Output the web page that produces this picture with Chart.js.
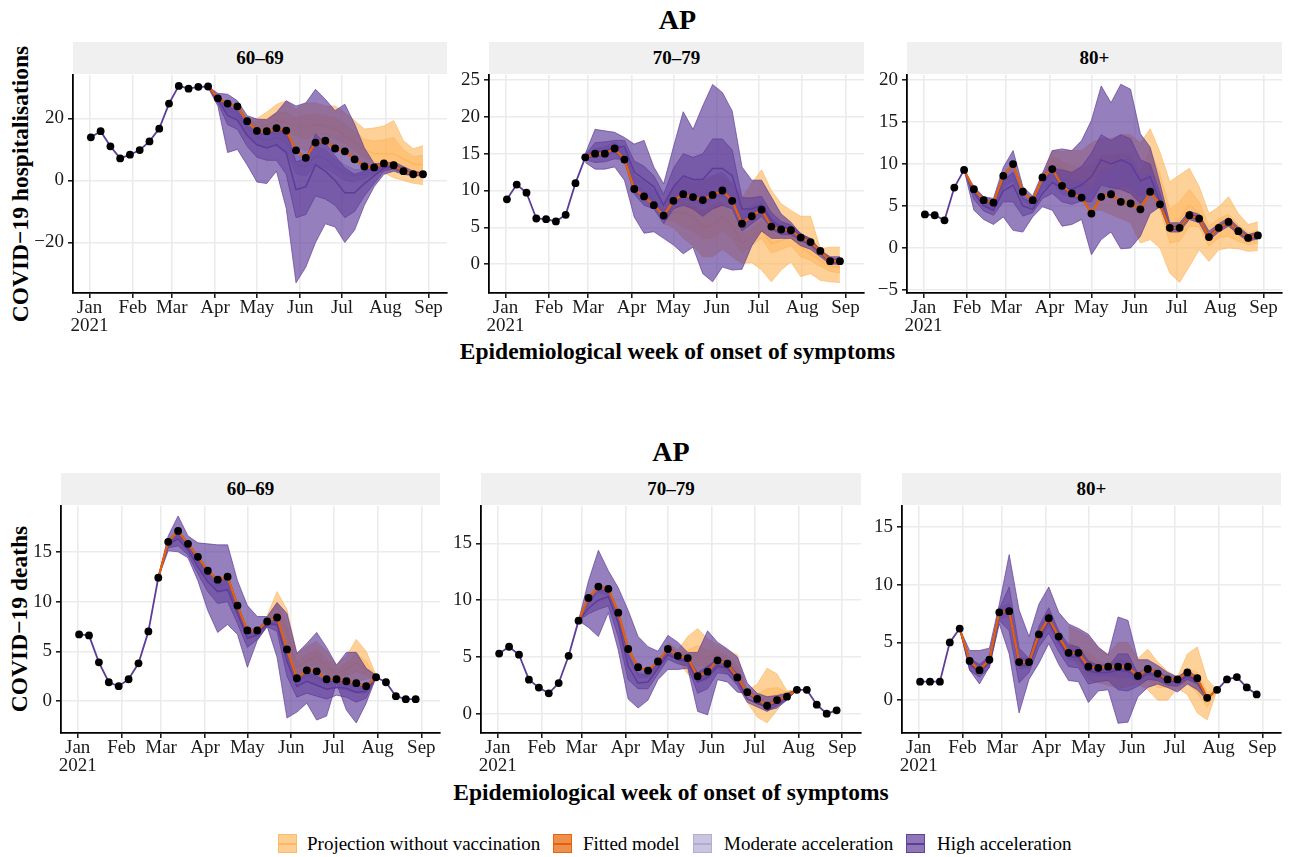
<!DOCTYPE html>
<html>
<head>
<meta charset="utf-8">
<script src="https://cdn.jsdelivr.net/npm/chart.js@4.4.1/dist/chart.umd.min.js"></script>
<style>
  body { margin: 0; background: #fff; }
  #wrap { position: relative; width: 1291px; height: 857px; overflow: hidden; font-family: "Liberation Serif", "DejaVu Serif", serif; color: #000; }
  .abs { position: absolute; }
  .title { font-weight: bold; font-size: 28px; text-align: center; }
  .xtitle { font-weight: bold; font-size: 23.5px; text-align: center; white-space: nowrap; }
  .ytitle { font-weight: bold; font-size: 23.5px; white-space: nowrap; transform: translate(-50%, -50%) rotate(-90deg); }
  .strip { background: #f0f0f0; font-weight: bold; font-size: 19px; text-align: center; line-height: 32px; height: 32px; }
  .key { width: 19px; height: 19px; box-sizing: border-box; }
  .key i { position: absolute; left: 0; right: 0; top: 8px; height: 1.6px; }
  .ltext { font-size: 19px; line-height: 19px; white-space: nowrap; }
</style>
</head>
<body>
<div id="wrap">
  <div class="abs title" style="left:73px;width:1209px;top:4px;">AP</div>
  <div class="abs xtitle" style="left:73px;width:1209px;top:338px;">Epidemiological week of onset of symptoms</div>
  <div class="abs ytitle" style="left:20px;top:184px;">COVID−19 hospitalisations</div>

  <div class="abs title" style="left:61px;width:1220px;top:436px;">AP</div>
  <div class="abs xtitle" style="left:61px;width:1220px;top:779px;">Epidemiological week of onset of symptoms</div>
  <div class="abs ytitle" style="left:19px;top:619px;">COVID−19 deaths</div>
</div>
<script>
// weeks (days since 1 Jan 2021, epi week ending Saturday)
const weekDays = [1, 8, 15, 22, 29, 36, 43, 50, 57, 64, 71, 78, 85, 92, 99, 106, 113, 120,
  127, 134, 141, 148, 155, 162, 169, 176, 183, 190, 197, 204, 211, 218, 225, 232, 239];
const monthTicks = [0, 31, 59, 90, 120, 151, 181, 212, 243];
const monthLabels = ['Jan', 'Feb', 'Mar', 'Apr', 'May', 'Jun', 'Jul', 'Aug', 'Sep'];

// ---- hospitalisations 60-69 ----
const h60_obs = [13.9, 15.9, 11.0, 7.1, 8.3, 9.8, 12.6, 16.7, 24.8, 30.5, 29.6, 30.2, 30.3, 26.5, 24.8, 23.9, 19.1, 16.0,
  15.9, 16.9, 16.1, 9.7, 7.3, 12.2, 12.8, 10.3, 9.4, 6.8, 4.5, 4.2, 5.5, 4.9, 3.0, 2.0, 2.0];
const h60_hi_med = [30.2, 26.0, 21.0, 19.5, 14.5, 11.5, 10.5, 11.5, 9.0, -3.0, -2.0, 5.0, 3.0, 0.0, -4.0, -4.0, -1.0, 1.5, 4.0, 4.5, 3.0, 2.0, 2.0];
const h60_hi_lo95 = [30.0, 24.0, 9.0, 10.0, 5.0, -0.5, -1.0, 3.0, -9.0, -33.0, -28.0, -20.0, -14.0, -15.0, -20.0, -16.0, -8.0, -2.0, 2.0, 3.0, 2.0, 1.5, 1.5];
const h60_hi_hi95 = [30.3, 28.1, 27.8, 25.7, 20.9, 19.8, 19.6, 21.9, 25.7, 24.0, 25.0, 29.4, 26.2, 22.5, 24.6, 18.2, 10.5, 5.5, 5.5, 6.0, 4.5, 3.0, 2.5];
const h60_hi_lo50 = [29.9, 25.0, 18.0, 16.5, 11.0, 7.5, 6.5, 6.5, 2.0, -12.0, -11.0, -5.0, -6.0, -8.0, -12.0, -10.0, -5.0, -1.0, 3.0, 3.7, 2.4, 1.6, 1.7];
const h60_hi_hi50 = [30.5, 27.0, 24.0, 22.5, 18.0, 15.5, 14.5, 16.5, 16.0, 6.0, 7.0, 15.0, 12.0, 8.0, 4.0, 2.0, 3.0, 4.0, 5.0, 5.3, 3.6, 2.4, 2.3];
const h60_mod_med = [30.2, 26.3, 23.0, 21.5, 17.0, 14.0, 13.0, 14.0, 12.5, 5.0, 4.5, 8.0, 7.0, 4.5, 2.5, 1.5, 2.0, 3.0, 4.5, 4.6, 3.0, 2.0, 2.0];
const h60_mod_lo = [30.0, 25.5, 21.5, 20.0, 15.0, 12.0, 11.0, 11.5, 9.5, 2.0, 1.5, 5.0, 4.0, 2.0, 0.0, -0.5, 0.5, 2.0, 3.9, 4.1, 2.6, 1.7, 1.8];
const h60_mod_hi = [30.4, 27.1, 24.5, 23.0, 19.0, 16.0, 15.0, 16.5, 15.5, 8.0, 7.5, 11.0, 10.0, 7.0, 5.0, 3.5, 3.5, 4.0, 5.1, 5.1, 3.4, 2.3, 2.2];
const h60_nv_med = [19.1, 17.5, 18.0, 19.3, 18.5, 17.6, 17.0, 18.2, 17.5, 16.6, 14.5, 12.3, 10.0, 8.6, 8.6, 8.6, 7.0, 5.3, 5.1];
const h60_nv_lo95 = [19.0, 15.5, 14.5, 15.0, 13.5, 11.0, 9.5, 12.0, 12.0, 10.5, 9.5, 7.0, 4.5, 3.5, 2.5, 0.9, 0.0, -0.9, -1.3];
const h60_nv_hi95 = [19.5, 20.0, 22.0, 24.5, 25.7, 23.0, 25.0, 25.0, 24.0, 24.0, 21.9, 19.3, 16.6, 16.9, 17.6, 19.3, 12.8, 10.2, 11.2];
const h60_nv_lo50 = [19.05, 16.5, 16.2, 17.1, 16.0, 14.3, 13.2, 15.1, 14.7, 13.5, 12.0, 9.6, 7.2, 6.0, 5.5, 4.7, 3.5, 2.2, 1.9];
const h60_nv_hi50 = [19.2, 18.8, 20.0, 21.8, 22.0, 20.3, 21.0, 21.5, 20.7, 20.3, 18.2, 15.8, 13.3, 12.7, 13.1, 13.9, 9.9, 7.7, 8.1];

// ---- hospitalisations 70-79 ----
const h70_obs = [8.8, 10.8, 9.7, 6.2, 6.1, 5.8, 6.7, 11.0, 14.5, 15.0, 15.0, 15.7, 14.2, 10.2, 9.2, 8.0, 6.6, 8.6,
  9.5, 9.1, 8.7, 9.4, 10.0, 8.6, 5.5, 6.5, 7.4, 5.1, 4.7, 4.6, 3.6, 3.0, 1.8, 0.4, 0.4];
const h70_hi_med = [14.5, 15.3, 15.4, 15.8, 16.0, 12.5, 11.5, 10.5, 8.0, 10.5, 12.0, 11.5, 11.5, 13.0, 13.0, 12.0, 7.5, 7.5, 8.0, 6.0, 5.0, 4.8, 3.8, 3.0, 1.8, 0.5, 0.5];
const h70_hi_lo95 = [13.8, 12.9, 12.9, 13.2, 11.4, 6.4, 4.2, 4.4, 3.5, 2.6, 1.4, 2.3, -1.3, -2.4, -0.4, -0.8, -0.7, 2.5, 4.5, 3.5, 3.5, 3.5, 2.5, 2.0, 1.0, 0.0, 0.0];
const h70_hi_hi95 = [15.0, 18.3, 18.1, 17.9, 17.2, 16.3, 16.8, 13.2, 10.9, 15.9, 20.7, 18.3, 21.5, 24.4, 23.3, 20.8, 13.2, 11.4, 11.4, 9.1, 6.8, 5.7, 4.1, 3.5, 1.9, 1.0, 1.0];
const h70_hi_lo50 = [14.2, 13.8, 13.9, 14.3, 14.2, 9.5, 8.0, 7.5, 5.5, 7.5, 8.0, 7.5, 6.5, 7.5, 8.0, 7.5, 4.5, 5.5, 6.5, 4.8, 4.0, 4.0, 3.2, 2.5, 1.4, 0.2, 0.2];
const h70_hi_hi50 = [14.8, 16.5, 16.6, 16.8, 16.8, 14.0, 13.3, 12.0, 9.5, 13.0, 15.0, 14.5, 15.0, 17.0, 17.0, 15.5, 9.0, 9.0, 9.2, 7.0, 5.8, 5.3, 4.2, 3.3, 2.0, 0.7, 0.7];
const h70_mod_med = [14.5, 15.1, 15.2, 15.8, 14.6, 10.8, 10.0, 8.8, 7.0, 9.2, 10.2, 9.8, 9.5, 10.3, 10.8, 9.5, 6.2, 7.0, 7.8, 5.5, 4.9, 4.7, 3.7, 3.0, 1.8, 0.4, 0.4];
const h70_mod_lo = [14.3, 14.6, 14.6, 15.1, 13.8, 9.8, 9.0, 7.8, 6.0, 8.0, 8.8, 8.4, 8.0, 8.8, 9.3, 8.2, 5.2, 6.2, 7.0, 4.9, 4.4, 4.3, 3.3, 2.7, 1.5, 0.2, 0.2];
const h70_mod_hi = [14.7, 15.7, 15.9, 16.6, 15.6, 12.0, 11.2, 10.0, 8.2, 10.6, 11.8, 11.4, 11.2, 12.0, 12.5, 11.0, 7.3, 7.9, 8.6, 6.2, 5.5, 5.2, 4.1, 3.3, 2.1, 0.6, 0.6];
const h70_nv_med = [6.5, 7.0, 7.0, 6.5, 5.0, 5.3, 6.4, 5.3, 2.8, 3.7, 4.6, 2.8, 3.2, 3.7, 2.3, 1.4, 0.5, -0.3, -0.4];
const h70_nv_lo95 = [5.5, 5.0, 3.5, 2.5, 1.0, 1.0, 2.0, 1.0, 0.1, 0.2, -0.8, -2.4, -0.8, 0.3, -1.7, -1.3, -2.2, -2.4, -2.5];
const h70_nv_hi95 = [7.0, 10.5, 11.5, 11.0, 11.5, 12.0, 12.0, 11.0, 9.0, 11.0, 12.8, 10.0, 8.2, 7.3, 6.5, 6.5, 2.1, 2.3, 2.3];
const h70_nv_lo50 = [6.0, 6.0, 5.0, 4.5, 3.5, 3.5, 4.5, 3.5, 1.5, 2.5, 3.5, 1.5, 2.0, 2.5, 1.0, 0.5, -0.3, -1.0, -1.2];
const h70_nv_hi50 = [6.8, 8.2, 8.6, 8.0, 7.3, 8.0, 8.4, 6.8, 4.1, 4.8, 5.9, 4.5, 4.5, 4.5, 3.5, 3.0, 1.8, 0.5, 0.5];

// ---- hospitalisations 80+ ----
const h80_obs = [4.0, 3.9, 3.3, 7.2, 9.3, 7.0, 5.7, 5.4, 8.6, 10.0, 6.7, 5.7, 8.4, 9.4, 7.4, 6.5, 6.0, 4.1,
  6.1, 6.4, 5.5, 5.3, 4.6, 6.7, 5.2, 2.4, 2.4, 3.9, 3.5, 1.3, 2.4, 3.1, 2.0, 1.2, 1.5];
const h80_hi_med = [9.3, 6.6, 5.0, 4.5, 6.8, 7.5, 5.0, 4.6, 6.5, 7.8, 7.2, 7.0, 7.5, 8.5, 10.5, 10.0, 10.5, 10.0, 8.0, 8.5, 5.5, 2.4, 2.4, 3.9, 3.5, 1.4, 2.4, 3.1, 2.0, 1.2, 1.5];
const h80_hi_lo95 = [9.3, 4.5, 3.4, 2.8, 3.7, 2.1, 1.9, 3.7, 4.9, 4.5, 2.6, 2.8, 3.4, -0.8, 1.0, 1.9, -0.1, 0.0, 1.4, 4.1, 4.9, 1.9, 1.9, 3.4, 3.0, 0.9, 1.9, 2.6, 1.6, 0.8, 1.1];
const h80_hi_hi95 = [9.3, 7.2, 6.1, 5.9, 9.6, 11.6, 7.3, 6.2, 8.9, 11.6, 11.8, 11.6, 12.8, 15.2, 19.3, 17.3, 19.5, 18.9, 13.6, 12.0, 7.7, 3.0, 3.0, 4.4, 4.0, 2.0, 2.9, 3.6, 2.5, 1.6, 1.9];
const h80_hi_lo50 = [9.3, 5.8, 4.4, 3.9, 5.5, 5.5, 3.8, 4.2, 5.9, 6.5, 5.5, 5.2, 5.6, 5.5, 7.5, 7.2, 7.0, 6.5, 5.3, 6.8, 5.1, 2.2, 2.2, 3.7, 3.3, 1.2, 2.2, 2.9, 1.8, 1.0, 1.3];
const h80_hi_hi50 = [9.3, 6.9, 5.6, 5.2, 8.0, 9.0, 6.0, 5.3, 7.6, 9.5, 9.3, 9.0, 9.7, 11.3, 13.5, 12.8, 13.5, 13.0, 10.5, 10.0, 6.5, 2.6, 2.6, 4.1, 3.7, 1.6, 2.6, 3.3, 2.2, 1.4, 1.7];
const h80_mod_med = [9.3, 7.0, 5.6, 5.2, 8.0, 9.0, 6.3, 5.3, 7.8, 8.8, 7.4, 7.0, 6.8, 6.0, 7.7, 8.0, 8.9, 8.9, 7.3, 7.8, 5.6, 2.4, 2.4, 3.9, 3.5, 1.3, 2.4, 3.1, 2.0, 1.2, 1.5];
const h80_mod_lo = [9.3, 6.6, 5.1, 4.7, 7.2, 8.0, 5.6, 4.8, 7.0, 7.8, 6.4, 6.0, 5.7, 4.8, 6.3, 6.5, 7.3, 7.2, 6.0, 6.8, 5.2, 2.2, 2.2, 3.7, 3.3, 1.1, 2.2, 2.9, 1.8, 1.0, 1.3];
const h80_mod_hi = [9.3, 7.4, 6.1, 5.7, 8.8, 10.0, 7.0, 5.8, 8.6, 9.8, 8.4, 8.0, 7.9, 7.2, 9.1, 9.5, 10.5, 10.6, 8.6, 8.8, 6.0, 2.6, 2.6, 4.1, 3.7, 1.5, 2.6, 3.3, 2.2, 1.4, 1.7];
const h80_nv_med = [8.4, 10.5, 9.5, 8.8, 8.5, 8.3, 9.4, 9.4, 9.4, 9.3, 6.7, 9.8, 7.0, 2.6, 3.4, 5.1, 4.1, 1.4, 2.4, 2.6, 1.8, 1.0, 1.4];
const h80_nv_lo95 = [8.4, 8.5, 7.0, 6.3, 6.0, 4.5, 4.5, 4.0, 3.5, 3.0, 0.6, 1.0, 0.0, -3.0, -4.1, -2.2, -0.2, -1.6, -0.2, 0.0, -0.1, -0.4, -0.3];
const h80_nv_hi95 = [8.4, 11.6, 11.5, 11.6, 11.6, 12.5, 13.0, 13.0, 13.5, 13.5, 12.5, 14.2, 11.4, 7.9, 8.7, 9.5, 7.3, 4.1, 4.9, 6.1, 4.1, 2.8, 3.1];
const h80_nv_lo50 = [8.4, 9.8, 8.5, 7.7, 7.3, 6.6, 7.2, 7.0, 6.8, 6.5, 4.0, 7.0, 4.6, 0.6, 0.8, 2.6, 2.5, 0.2, 1.2, 1.4, 0.8, 0.4, 0.6];
const h80_nv_hi50 = [8.4, 10.9, 10.3, 9.8, 9.6, 9.8, 11.0, 11.0, 11.2, 11.2, 9.0, 11.8, 8.8, 4.6, 5.5, 7.0, 5.5, 2.6, 3.5, 4.0, 2.8, 1.8, 2.1];

// ---- deaths 60-69 ----
const d60_obs = [6.7, 6.6, 3.9, 1.9, 1.5, 2.2, 3.8, 7.0, 12.4, 16.0, 17.1, 15.8, 14.5, 13.1, 12.2, 12.5, 9.6, 7.1,
  7.1, 8.0, 8.4, 5.2, 2.3, 3.1, 3.0, 2.2, 2.2, 2.0, 1.8, 1.5, 2.4, 1.9, 0.5, 0.2, 0.2];
const d60_hi_med = [12.4, 15.8, 16.3, 15.2, 13.5, 12.0, 11.0, 11.2, 8.8, 6.3, 6.7, 7.8, 7.7, 4.0, 1.5, 2.0, 1.6, 1.2, 1.4, 1.3, 0.9, 1.0, 2.4];
const d60_hi_lo95 = [12.4, 15.1, 15.0, 14.4, 12.1, 9.1, 6.9, 7.7, 6.7, 3.4, 6.1, 7.5, 4.4, -1.7, -1.1, -0.2, -1.9, -1.5, 1.8, -0.9, -2.2, -0.2, 2.4];
const d60_hi_hi95 = [12.4, 16.6, 18.6, 16.6, 15.9, 15.8, 15.7, 15.7, 12.1, 9.6, 8.5, 8.5, 9.9, 8.8, 4.8, 5.8, 6.9, 5.4, 3.6, 4.9, 4.9, 3.3, 2.6];
const d60_hi_lo50 = [12.4, 15.4, 15.6, 14.7, 12.8, 11.0, 9.8, 10.0, 7.8, 5.4, 6.2, 7.5, 7.0, 2.5, 0.4, 0.8, 0.5, 0.2, 0.6, 0.4, -0.1, 0.3, 2.4];
const d60_hi_hi50 = [12.4, 16.2, 16.9, 15.6, 14.2, 13.0, 12.2, 12.4, 9.8, 7.0, 7.2, 8.1, 8.3, 5.3, 2.4, 2.9, 2.5, 2.0, 2.0, 2.0, 1.6, 1.6, 2.4];
const d60_mod_med = [12.4, 15.9, 16.7, 15.5, 14.0, 12.6, 11.6, 11.8, 9.2, 6.8, 6.9, 7.9, 8.1, 4.6, 1.9, 2.6, 2.3, 1.7, 1.8, 1.6, 1.3, 1.2, 2.4];
const d60_mod_lo = [12.4, 15.6, 16.3, 15.1, 13.5, 12.0, 11.0, 11.2, 8.7, 6.4, 6.5, 7.6, 7.6, 4.0, 1.4, 2.0, 1.7, 1.2, 1.3, 1.1, 0.8, 0.8, 2.4];
const d60_mod_hi = [12.4, 16.2, 17.1, 15.9, 14.5, 13.2, 12.2, 12.4, 9.7, 7.2, 7.3, 8.2, 8.6, 5.2, 2.4, 3.2, 2.9, 2.2, 2.3, 2.1, 1.8, 1.6, 2.4];
const d60_nv_med = [8.3, 9.5, 7.0, 3.4, 4.0, 4.5, 3.4, 2.8, 3.2, 3.9, 3.2, 2.4];
const d60_nv_lo95 = [8.0, 8.2, 5.5, 2.0, 2.5, 2.5, 2.0, 2.0, 2.0, 2.0, 2.2, 2.4];
const d60_nv_hi95 = [8.6, 11.0, 9.2, 4.8, 5.5, 6.0, 5.0, 3.7, 4.5, 6.2, 5.0, 2.6];
const d60_nv_lo50 = [8.1, 8.8, 6.2, 2.7, 3.3, 3.7, 2.7, 2.4, 2.6, 3.0, 2.6, 2.4];
const d60_nv_hi50 = [8.4, 9.9, 7.8, 4.0, 4.7, 5.2, 4.2, 3.2, 3.8, 4.8, 4.0, 2.5];

// ---- deaths 70-79 ----
const d70_obs = [5.3, 5.9, 5.2, 3.0, 2.3, 1.8, 2.7, 5.1, 8.2, 10.2, 11.2, 11.0, 8.9, 5.7, 4.1, 3.8, 4.6, 5.7,
  5.1, 4.9, 3.3, 3.7, 4.7, 4.4, 3.2, 1.9, 1.3, 0.7, 1.2, 1.5, 2.1, 2.1, 0.8, 0.0, 0.3];
const d70_hi_med = [8.2, 9.3, 10.0, 10.3, 8.0, 4.2, 2.7, 2.8, 4.0, 5.2, 4.8, 4.6, 2.8, 3.2, 4.2, 4.0, 3.0, 1.3, 0.9, 0.6, 1.0, 1.4, 2.1];
const d70_hi_lo95 = [8.2, 7.6, 6.8, 8.9, 5.6, 1.3, 0.5, 1.2, 3.0, 3.9, 3.9, 4.0, 0.2, -0.1, 3.0, 2.8, 1.9, 1.8, 1.1, 0.3, 0.5, 1.2, 2.1];
const d70_hi_hi95 = [8.2, 11.7, 14.4, 12.6, 11.1, 9.1, 6.8, 5.9, 5.5, 6.9, 6.3, 5.4, 5.4, 7.3, 6.3, 5.7, 5.0, 2.7, 1.8, 1.5, 1.6, 1.8, 2.1];
const d70_hi_lo50 = [8.2, 8.8, 9.2, 9.5, 6.8, 3.0, 2.2, 2.2, 3.5, 4.8, 4.4, 4.2, 1.8, 2.2, 3.6, 3.5, 2.5, 1.0, 0.6, 0.2, 0.7, 1.2, 2.1];
const d70_hi_hi50 = [8.2, 10.0, 10.8, 11.0, 8.8, 5.2, 3.5, 3.4, 4.5, 5.6, 5.2, 4.9, 3.6, 4.2, 4.8, 4.5, 3.5, 1.7, 1.2, 0.9, 1.2, 1.6, 2.1];
const d70_mod_med = [8.2, 9.9, 11.0, 10.7, 8.6, 5.3, 3.6, 3.5, 4.4, 5.5, 5.0, 4.8, 3.2, 3.6, 4.6, 4.3, 3.2, 1.8, 1.2, 0.7, 1.1, 1.5, 2.1];
const d70_mod_lo = [8.2, 9.7, 10.7, 10.4, 8.2, 4.9, 3.2, 3.2, 4.1, 5.2, 4.7, 4.5, 2.8, 3.2, 4.3, 4.0, 2.9, 1.5, 0.9, 0.4, 0.9, 1.3, 2.1];
const d70_mod_hi = [8.2, 10.1, 11.3, 11.0, 9.0, 5.7, 4.0, 3.8, 4.7, 5.8, 5.3, 5.1, 3.6, 4.0, 4.9, 4.6, 3.5, 2.1, 1.5, 1.0, 1.3, 1.7, 2.1];
const d70_nv_med = [5.9, 5.1, 5.0, 5.2, 5.0, 5.2, 4.7, 3.8, 1.7, 1.3, 1.4, 1.7, 1.9, 2.1];
const d70_nv_lo95 = [5.4, 4.7, 3.5, 2.8, 3.0, 4.0, 3.5, 2.6, 1.0, -0.3, -0.8, 0.3, 1.5, 2.1];
const d70_nv_hi95 = [6.3, 5.6, 6.8, 7.5, 6.6, 6.1, 5.6, 5.2, 2.0, 2.6, 4.0, 3.5, 2.0, 2.1];
const d70_nv_lo50 = [5.7, 4.9, 4.3, 4.2, 4.2, 4.7, 4.2, 3.3, 1.4, 0.6, 0.4, 1.0, 1.7, 2.1];
const d70_nv_hi50 = [6.1, 5.3, 5.6, 6.0, 5.6, 5.6, 5.1, 4.3, 1.8, 1.7, 2.2, 2.3, 1.9, 2.1];

// ---- deaths 80+ ----
const d80_obs = [1.6, 1.6, 1.6, 5.0, 6.2, 3.4, 2.6, 3.5, 7.6, 7.7, 3.3, 3.3, 5.7, 7.1, 5.5, 4.1, 4.1, 2.9,
  2.8, 2.9, 2.9, 2.9, 2.1, 2.7, 2.3, 1.8, 1.8, 2.4, 1.9, 0.2, 0.9, 1.8, 2.0, 1.1, 0.5];
const d80_hi_med = [6.2, 3.1, 2.5, 3.3, 7.4, 8.0, 3.0, 3.0, 5.5, 6.8, 5.1, 3.8, 3.7, 2.5, 2.4, 2.4, 2.6, 2.5, 1.8, 2.3, 2.1, 1.7, 1.6, 2.1, 1.7, 0.2, 0.9];
const d80_hi_lo95 = [6.2, 2.6, 1.4, 2.9, 6.6, 4.0, -1.1, 1.8, 3.2, 4.9, 3.1, 1.7, 1.6, -0.2, 0.8, 0.9, -2.0, -1.9, 0.3, 1.1, 1.4, 1.1, 0.7, 1.4, 0.9, 0.0, 0.9];
const d80_hi_hi95 = [6.2, 4.3, 4.3, 4.5, 8.3, 12.6, 7.8, 5.5, 8.3, 9.8, 7.6, 6.6, 6.2, 5.7, 4.6, 3.9, 7.2, 6.9, 3.5, 3.5, 3.0, 2.4, 2.0, 2.6, 2.0, 0.1, 0.9];
const d80_hi_lo50 = [6.2, 2.6, 2.0, 2.8, 6.9, 6.0, 1.5, 2.4, 4.6, 5.8, 4.2, 2.9, 2.8, 1.4, 1.6, 1.7, 0.9, 0.8, 1.2, 1.8, 1.7, 1.3, 1.2, 1.8, 1.4, 0.1, 0.9];
const d80_hi_hi50 = [6.2, 3.6, 3.1, 3.8, 7.9, 9.8, 4.5, 3.6, 6.4, 8.0, 6.0, 4.8, 4.6, 3.4, 3.0, 2.9, 4.0, 4.0, 2.3, 2.7, 2.4, 2.0, 1.8, 2.3, 1.8, 0.2, 0.9];
const d80_mod_med = [6.2, 3.3, 2.7, 3.4, 7.5, 7.8, 3.2, 3.2, 5.6, 7.0, 5.3, 4.0, 3.9, 2.7, 2.6, 2.6, 2.8, 2.7, 2.0, 2.5, 2.2, 1.8, 1.7, 2.2, 1.8, 0.2, 0.9];
const d80_mod_lo = [6.2, 3.0, 2.4, 3.1, 7.1, 7.2, 2.7, 2.8, 5.1, 6.4, 4.8, 3.5, 3.4, 2.2, 2.1, 2.1, 2.1, 2.0, 1.6, 2.1, 1.9, 1.5, 1.4, 1.9, 1.5, 0.1, 0.9];
const d80_mod_hi = [6.2, 3.6, 3.0, 3.7, 7.9, 8.4, 3.7, 3.6, 6.1, 7.6, 5.8, 4.5, 4.4, 3.2, 3.1, 3.1, 3.5, 3.4, 2.4, 2.9, 2.5, 2.1, 2.0, 2.5, 2.1, 0.3, 0.9];
const d80_nv_med = [4.5, 4.0, 3.5, 2.9, 2.6, 2.5, 2.4, 2.0, 2.3, 1.7, 1.6, 1.6, 2.1, 1.6, 0.1, 0.9];
const d80_nv_lo95 = [3.8, 3.0, 1.8, 1.5, 1.3, 1.0, 1.2, 1.4, 0.9, 0.0, 0.0, 1.0, 0.5, -1.1, -1.7, 0.9];
const d80_nv_hi95 = [6.4, 6.0, 5.5, 4.5, 4.0, 5.0, 5.0, 3.6, 4.4, 3.3, 2.5, 2.0, 4.0, 4.6, 1.8, 0.9];
const d80_nv_lo50 = [4.1, 3.5, 2.8, 2.3, 2.1, 1.9, 1.9, 1.7, 1.7, 1.1, 1.1, 1.3, 1.5, 0.6, -0.6, 0.9];
const d80_nv_hi50 = [5.0, 4.6, 4.1, 3.4, 3.0, 3.1, 3.0, 2.4, 2.9, 2.2, 1.9, 1.8, 2.7, 2.4, 0.7, 0.9];

const COL = {
  novac: [253, 184, 99],
  fitted: [230, 97, 1],
  moderate: [178, 171, 210],
  high: [94, 60, 153]
};
const rgba = (c, a) => `rgba(${c[0]},${c[1]},${c[2]},${a})`;

const panels = [
  { label: '60–69', L: 73, R: 447, T: 74, B: 293, yMin: -36.3, yMax: 34.0, yTicks: [-20, 0, 20],
    obs: h60_obs, start: 12, end: 34, nvStart: 16,
    hi: [h60_hi_med, h60_hi_lo95, h60_hi_hi95, h60_hi_lo50, h60_hi_hi50],
    mod: [h60_mod_med, h60_mod_lo, h60_mod_hi],
    nv: [h60_nv_med, h60_nv_lo95, h60_nv_hi95, h60_nv_lo50, h60_nv_hi50] },
  { label: '70–79', L: 489, R: 864, T: 74, B: 293, yMin: -3.92, yMax: 25.68, yTicks: [0, 5, 10, 15, 20, 25],
    obs: h70_obs, start: 8, end: 34, nvStart: 16,
    hi: [h70_hi_med, h70_hi_lo95, h70_hi_hi95, h70_hi_lo50, h70_hi_hi50],
    mod: [h70_mod_med, h70_mod_lo, h70_mod_hi],
    nv: [h70_nv_med, h70_nv_lo95, h70_nv_hi95, h70_nv_lo50, h70_nv_hi50] },
  { label: '80+', L: 907, R: 1282, T: 74, B: 293, yMin: -5.36, yMax: 20.6, yTicks: [-5, 0, 5, 10, 15, 20],
    obs: h80_obs, start: 4, end: 34, nvStart: 12,
    hi: [h80_hi_med, h80_hi_lo95, h80_hi_hi95, h80_hi_lo50, h80_hi_hi50],
    mod: [h80_mod_med, h80_mod_lo, h80_mod_hi],
    nv: [h80_nv_med, h80_nv_lo95, h80_nv_hi95, h80_nv_lo50, h80_nv_hi50] },
  { label: '60–69', L: 61, R: 440, T: 505, B: 733, yMin: -3.2, yMax: 19.6, yTicks: [0, 5, 10, 15],
    obs: d60_obs, start: 8, end: 30, nvStart: 19,
    hi: [d60_hi_med, d60_hi_lo95, d60_hi_hi95, d60_hi_lo50, d60_hi_hi50],
    mod: [d60_mod_med, d60_mod_lo, d60_mod_hi],
    nv: [d60_nv_med, d60_nv_lo95, d60_nv_hi95, d60_nv_lo50, d60_nv_hi50] },
  { label: '70–79', L: 481, R: 861, T: 505, B: 733, yMin: -1.7, yMax: 18.3, yTicks: [0, 5, 10, 15],
    obs: d70_obs, start: 8, end: 30, nvStart: 17,
    hi: [d70_hi_med, d70_hi_lo95, d70_hi_hi95, d70_hi_lo50, d70_hi_hi50],
    mod: [d70_mod_med, d70_mod_lo, d70_mod_hi],
    nv: [d70_nv_med, d70_nv_lo95, d70_nv_hi95, d70_nv_lo50, d70_nv_hi50] },
  { label: '80+', L: 902, R: 1281, T: 505, B: 733, yMin: -2.84, yMax: 16.8, yTicks: [0, 5, 10, 15],
    obs: d80_obs, start: 4, end: 30, nvStart: 15,
    hi: [d80_hi_med, d80_hi_lo95, d80_hi_hi95, d80_hi_lo50, d80_hi_hi50],
    mod: [d80_mod_med, d80_mod_lo, d80_mod_hi],
    nv: [d80_nv_med, d80_nv_lo95, d80_nv_hi95, d80_nv_lo50, d80_nv_hi50] }
];

const X_MIN = -11.8, X_MAX = 256.2;
const Y_AXIS_W = 60, X_AXIS_H = 50, PAD_TOP = 12, PAD_RIGHT = 20;
const tickFont = { family: '"Liberation Serif", serif', size: 19, lineHeight: 0.95 };

function pts(start, arr) {
  return arr.map((v, i) => ({ x: weekDays[start + i], y: v }));
}

function buildDatasets(p) {
  const ds = [];
  const add = d => { d.order = -ds.length; d.pointRadius = d.pointRadius || 0; d.tension = 0; ds.push(d); return ds.length - 1; };
  const band = (start, lo, hi, c, a) => {
    const iLo = add({ data: pts(start, lo), borderColor: rgba(c, 0.85), borderWidth: 0.8, fill: false });
    add({ data: pts(start, hi), borderColor: rgba(c, 0.85), borderWidth: 0.8, fill: iLo, backgroundColor: rgba(c, a) });
  };
  const line = (start, arr, c, w) => add({ data: pts(start, arr), borderColor: rgba(c, 1), borderWidth: w, fill: false });

  // observed trajectory underneath everything
  line(0, p.obs, COL.high, 1.8);
  // projection without vaccination
  band(p.nvStart, p.nv[1], p.nv[2], COL.novac, 0.65);
  band(p.nvStart, p.nv[3], p.nv[4], COL.novac, 0.6);
  line(p.nvStart, p.nv[0], COL.novac, 1.6);
  // moderate acceleration
  band(p.start, p.mod[1], p.mod[2], COL.moderate, 0.6);
  line(p.start, p.mod[0], COL.moderate, 1.6);
  // high acceleration
  band(p.start, p.hi[1], p.hi[2], COL.high, 0.66);
  band(p.start, p.hi[3], p.hi[4], COL.high, 0.55);
  line(p.start, p.hi[0], COL.high, 1.5);
  // fitted model
  line(p.start, p.obs.slice(p.start, p.end + 1), COL.fitted, 2.2);
  // observed points
  add({ data: pts(0, p.obs), showLine: false, pointRadius: 3.9, pointBackgroundColor: '#000', pointBorderWidth: 0 });
  return ds;
}

const wrap = document.getElementById('wrap');

panels.forEach((p, n) => {
  const strip = document.createElement('div');
  strip.className = 'abs strip';
  strip.style.left = p.L + 'px';
  strip.style.width = (p.R - p.L) + 'px';
  strip.style.top = (p.T - 32) + 'px';
  strip.textContent = p.label;
  wrap.appendChild(strip);

  const cv = document.createElement('canvas');
  const w = p.R - p.L + Y_AXIS_W + PAD_RIGHT;
  const h = p.B - p.T + PAD_TOP + X_AXIS_H;
  cv.width = w; cv.height = h;
  cv.className = 'abs';
  cv.style.left = (p.L - Y_AXIS_W) + 'px';
  cv.style.top = (p.T - PAD_TOP) + 'px';
  cv.style.width = w + 'px'; cv.style.height = h + 'px';
  wrap.appendChild(cv);

  new Chart(cv, {
    type: 'line',
    data: { datasets: buildDatasets(p) },
    options: {
      responsive: false,
      animation: false,
      devicePixelRatio: 1,
      events: [],
      layout: { padding: { top: PAD_TOP, right: PAD_RIGHT, left: 0, bottom: 0 } },
      plugins: { legend: { display: false }, tooltip: { enabled: false } },
      scales: {
        x: {
          type: 'linear', min: X_MIN, max: X_MAX,
          afterBuildTicks: s => { s.ticks = monthTicks.map(v => ({ value: v })); },
          afterFit: s => { s.height = X_AXIS_H; },
          ticks: {
            autoSkip: false, maxRotation: 0, minRotation: 0, padding: 1,
            color: '#1a1a1a', font: tickFont,
            callback: (v, i) => i === 0 ? [monthLabels[i], '2021'] : monthLabels[i]
          },
          grid: { color: '#ebebeb', lineWidth: 1.6, tickLength: 5, tickColor: '#111', tickWidth: 1.5 },
          border: { color: '#000', width: 1.8 }
        },
        y: {
          type: 'linear', min: p.yMin, max: p.yMax,
          afterBuildTicks: s => { s.ticks = p.yTicks.map(v => ({ value: v })); },
          afterFit: s => { s.width = Y_AXIS_W; },
          ticks: {
            padding: 4, color: '#1a1a1a', font: tickFont,
            callback: v => v < 0 ? '−' + Math.abs(v) : String(v)
          },
          grid: { color: '#ebebeb', lineWidth: 1.6, tickLength: 5, tickColor: '#111', tickWidth: 1.5 },
          border: { color: '#000', width: 1.8 }
        }
      }
    }
  });
});

// legend
const legendItems = [
  { text: 'Projection without vaccination', c: COL.novac, kx: 278, tx: 307 },
  { text: 'Fitted model', c: COL.fitted, kx: 553, tx: 583 },
  { text: 'Moderate acceleration', c: COL.moderate, kx: 693, tx: 724 },
  { text: 'High acceleration', c: COL.high, kx: 906, tx: 937 }
];
legendItems.forEach(it => {
  const k = document.createElement('div');
  k.className = 'abs key';
  k.style.left = it.kx + 'px';
  k.style.top = '834px';
  k.style.background = rgba(it.c, 0.7);
  k.style.border = '1px solid ' + rgba(it.c, 0.9);
  const bar = document.createElement('i');
  bar.style.background = rgba(it.c, 1);
  k.appendChild(bar);
  wrap.appendChild(k);
  const t = document.createElement('div');
  t.className = 'abs ltext';
  t.style.left = it.tx + 'px';
  t.style.top = '834px';
  t.textContent = it.text;
  wrap.appendChild(t);
});
</script>
</body>
</html>
